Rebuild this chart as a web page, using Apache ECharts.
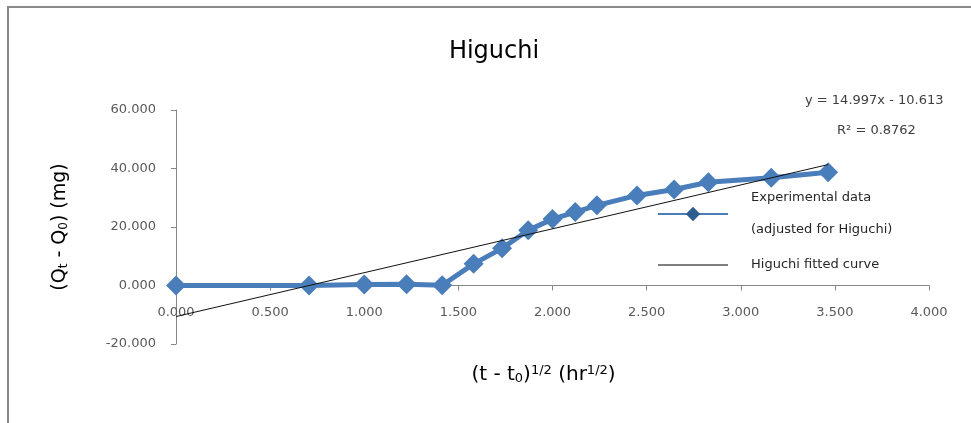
<!DOCTYPE html>
<html>
<head>
<meta charset="utf-8">
<script src="https://cdn.jsdelivr.net/npm/echarts@6/dist/echarts.min.js"></script>
<style>
  html, body { margin: 0; padding: 0; background: #ffffff; }
  #chart { width: 971px; height: 423px; }
</style>
</head>
<body>
<div id="chart"></div>
<script>
// Square root of elapsed time, (t - t0)^1/2 in hr^1/2
const sqrtTime = [0, 0.707, 1.000, 1.225, 1.414, 1.581, 1.732, 1.871, 2.000, 2.121, 2.236, 2.449, 2.646, 2.828, 3.162, 3.464];
// Cumulative amount released, Qt - Q0 in mg
const released = [0, 0, 0.3, 0.4, 0.1, 7.4, 12.7, 18.9, 22.7, 25.1, 27.4, 30.8, 32.8, 35.3, 36.8, 38.7];
// Linear trend line reported on the chart: y = slope * x + intercept
const fitSlope = 14.997;
const fitIntercept = -10.613;
const fitRSquared = 0.8762;
// Axis tick values
const xTicks = [0, 0.5, 1, 1.5, 2, 2.5, 3, 3.5, 4];
const yTicks = [-20, 0, 20, 40, 60];

const FONT = 'DejaVu Sans';
const GRID_TOP = 110;
const GRID_BOTTOM = 79;
const CHART_H = 423;
const experimental = sqrtTime.map((x, i) => [x, released[i]]);
const xFirst = sqrtTime[0];
const xLast = sqrtTime[sqrtTime.length - 1];
const fitted = [
  [xFirst, fitSlope * xFirst + fitIntercept],
  [xLast, fitSlope * xLast + fitIntercept]
];

// The horizontal axis sits on y = 0: shift it up from the grid bottom by the
// pixel distance between the bottom of the y range and zero.
const yMin = yTicks[0], yMax = yTicks[yTicks.length - 1];
const plotH = CHART_H - GRID_TOP - GRID_BOTTOM;
const zeroShift = plotH * (0 - yMin) / (yMax - yMin);

const chart = echarts.init(document.getElementById('chart'), null, { renderer: 'canvas' });

chart.setOption({
  animation: false,
  backgroundColor: '#ffffff',
  title: {
    text: 'Higuchi',
    left: 489,
    top: 35,
    textAlign: 'center',
    textStyle: { fontFamily: FONT, fontSize: 24, fontWeight: 'normal', color: '#000000' }
  },
  grid: { left: 176, right: 42, top: GRID_TOP, bottom: GRID_BOTTOM, containLabel: false, outerBoundsMode: 'none' },
  xAxis: {
    type: 'value',
    min: xTicks[0],
    max: xTicks[xTicks.length - 1],
    interval: xTicks[1] - xTicks[0],
    offset: -zeroShift,
    axisLine: { onZero: false, lineStyle: { color: '#868686', width: 1 } },
    axisTick: { show: true, inside: false, length: 5, lineStyle: { color: '#868686' } },
    splitLine: { show: false },
    axisLabel: {
      margin: 21,
      fontFamily: FONT, fontSize: 13, color: '#595959',
      formatter: v => v.toFixed(3)
    },
    name: '(t - t{sub|0}){sup|1/2} (hr{sup|1/2})',
    nameLocation: 'middle',
    nameGap: 79,
    nameTextStyle: {
      fontFamily: FONT, fontSize: 20, color: '#000000', padding: [0, 18, 0, 0],
      rich: {
        sub: { fontFamily: FONT, fontSize: 13, color: '#000000', verticalAlign: 'bottom', padding: [8, 0, 0, 0] },
        sup: { fontFamily: FONT, fontSize: 13, color: '#000000', verticalAlign: 'top', padding: [0, 0, 8, 0] }
      }
    }
  },
  yAxis: {
    type: 'value',
    min: yMin,
    max: yMax,
    interval: yTicks[1] - yTicks[0],
    axisLine: { show: true, onZero: false, lineStyle: { color: '#868686', width: 1 } },
    axisTick: { show: true, inside: false, length: 5, lineStyle: { color: '#868686' } },
    splitLine: { show: false },
    axisLabel: {
      margin: 20,
      fontFamily: FONT, fontSize: 13, color: '#595959',
      formatter: v => v.toFixed(3)
    },
    name: '(Q{sub|t} - Q{sub|0}) (mg)',
    nameLocation: 'middle',
    nameRotate: 90,
    nameGap: 106,
    nameTextStyle: {
      fontFamily: FONT, fontSize: 19, color: '#000000',
      rich: {
        sub: { fontFamily: FONT, fontSize: 12, color: '#000000', verticalAlign: 'bottom', padding: [8, 0, 0, 0] }
      }
    }
  },
  legend: {
    orient: 'vertical',
    left: 652,
    top: 177,
    itemWidth: 70,
    itemHeight: 18,
    itemGap: 3,
    selectedMode: false,
    textStyle: { fontFamily: FONT, fontSize: 13, color: '#262626', lineHeight: 32, padding: [0, 0, 0, 18] },
    data: [
      {
        name: 'Experimental data\n(adjusted for Higuchi)',
        lineStyle: { width: 2, color: '#4a7ebb' },
        itemStyle: { color: '#2f5d8f' }
      },
      {
        name: 'Higuchi fitted curve',
        lineStyle: { width: 1, color: '#000000' },
        itemStyle: { opacity: 0 }
      }
    ]
  },
  graphic: [
    { type: 'line', shape: { x1: 8, y1: 7, x2: 8, y2: 423 }, style: { stroke: '#8a8a8a', lineWidth: 2 }, silent: true },
    { type: 'line', shape: { x1: 7, y1: 7, x2: 971, y2: 7 }, style: { stroke: '#8a8a8a', lineWidth: 2 }, silent: true },
    {
      type: 'text', left: 805, top: 94, silent: true,
      style: { text: 'y = ' + fitSlope.toFixed(3) + 'x - ' + Math.abs(fitIntercept).toFixed(3), fontFamily: FONT, fontSize: 13, fill: '#404040' }
    },
    {
      type: 'text', left: 837, top: 124, silent: true,
      style: { text: 'R² = ' + fitRSquared.toFixed(4), fontFamily: FONT, fontSize: 13, fill: '#404040' }
    }
  ],
  series: [
    {
      name: 'Experimental data\n(adjusted for Higuchi)',
      type: 'line',
      data: experimental,
      symbol: 'diamond',
      symbolSize: 20,
      showAllSymbol: true,
      lineStyle: { color: '#4a7ebb', width: 5 },
      itemStyle: { color: '#4a7ebb' },
      z: 2
    },
    {
      name: 'Higuchi fitted curve',
      type: 'line',
      data: fitted,
      symbol: 'none',
      lineStyle: { color: '#111111', width: 1 },
      z: 3
    }
  ]
});
</script>
</body>
</html>
